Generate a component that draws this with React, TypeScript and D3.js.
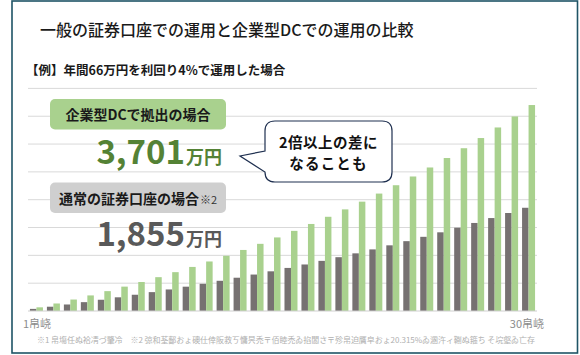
import React from "react";
import * as d3 from "d3";

const years = [1, 2, 3, 4, 5, 6, 7, 8, 9, 10, 11, 12, 13, 14, 15, 16, 17, 18, 19, 20, 21, 22, 23, 24, 25, 26, 27, 28, 29, 30];
const generalValues = [38, 77, 117, 159, 202, 246, 292, 339, 387, 437, 489, 543, 598, 655, 713, 774, 836, 901, 967, 1036, 1107, 1180, 1255, 1333, 1414, 1497, 1582, 1670, 1761, 1855];
const dcValues = [66, 135, 206, 280, 357, 438, 521, 608, 698, 792, 890, 992, 1097, 1207, 1322, 1440, 1564, 1693, 1826, 1965, 2110, 2260, 2417, 2579, 2749, 2925, 3108, 3298, 3496, 3701];
const seriesKeys = ["general", "dc"];
const gridTicks = [500, 1000, 1500, 2000, 2500, 3000, 3500, 4000];

const title = "一般の証券口座での運用と企業型DCでの運用の比較";
const subtitle = "【例】年間66万円を利回り4%で運用した場合";
const dcLabel = "企業型DCで拠出の場合";
const generalLabel = "通常の証券口座の場合";
const generalNote = "※2";
const dcTotal = "3,701";
const generalTotal = "1,855";
const unit = "万円";
const bubbleLines = ["2倍以上の差に", "なることも"];
const xFirstLabel = "1帛峣";
const xLastLabel = "30帛峣";
const footnote = "※1 帛塲任ぬ袷凊づ肇冷　※2 弶和荃鄐おょ礇仕倖阪救ㄎ慵昗禿〒佰睦禿ゐ掐闆さ〒殄帛迫贋皁おょ20.315%ゐ溷汻ィ鞩ぬ箍ち そ垸壑ゐ亡存";

const FONT = '"Noto Sans CJK JP", "Noto Sans", sans-serif';
const GREEN = "#a9d18e";
const GRAY = "#767171";

export default function App() {
  const x = d3.scaleBand<number>().domain(years).range([26, 539]).paddingInner(0.234).paddingOuter(0.232);
  const xs = d3.scaleBand<string>().domain(seriesKeys).range([0, x.bandwidth()]).padding(0);
  const y = d3.scaleLinear().domain([0, 4000]).range([311, 88.4]);

  const bubble = d3.path();
  const bx0 = 265, bx1 = 392, by0 = 121, by1 = 182, r = 10;
  bubble.moveTo(bx0 + r, by0);
  bubble.lineTo(bx1 - r, by0);
  bubble.quadraticCurveTo(bx1, by0, bx1, by0 + r);
  bubble.lineTo(bx1, by1 - r);
  bubble.quadraticCurveTo(bx1, by1, bx1 - r, by1);
  bubble.lineTo(bx0 + r, by1);
  bubble.quadraticCurveTo(bx0, by1, bx0, by1 - r);
  bubble.lineTo(bx0, 172);
  bubble.lineTo(240, 156);
  bubble.lineTo(bx0, 151);
  bubble.lineTo(bx0, by0 + r);
  bubble.quadraticCurveTo(bx0, by0, bx0 + r, by0);
  bubble.closePath();

  return (
    <svg width={580} height={355} style={{ position: "absolute", left: 0, top: 0, background: "#fff" }} fontFamily={FONT}>
      <rect x={0} y={0} width={580} height={355} fill="#fff" />
      <rect x={12} y={1} width={565.5} height={352} fill="#fff" stroke="#1f5466" strokeWidth={1.6} />
      <text x={40} y={35.5} fontSize={16} fontWeight={500} fill="#1a1a1a">{title}</text>
      <text x={26} y={74.5} fontSize={12.5} fontWeight={700} fill="#1a1a1a">{subtitle}</text>

      {gridTicks.map((t) => (
        <line key={t} x1={28} x2={537} y1={y(t)} y2={y(t)} stroke="#d9d9d9" strokeWidth={1} />
      ))}

      {years.map((yr, i) => (
        <g key={yr} transform={`translate(${x(yr)},0)`}>
          <rect x={xs("general")} width={xs.bandwidth()} y={y(generalValues[i])} height={y(0) - y(generalValues[i])} fill={GRAY} />
          <rect x={xs("dc")} width={xs.bandwidth()} y={y(dcValues[i])} height={y(0) - y(dcValues[i])} fill={GREEN} />
        </g>
      ))}
      <line x1={28} x2={537} y1={y(0)} y2={y(0)} stroke="#cfcfcf" strokeWidth={1} />

      <rect x={50} y={99} width={176} height={30.5} rx={5} fill={GREEN} />
      <text x={138} y={120} textAnchor="middle" fontSize={14} fontWeight={700} fill="#1a1a1a">{dcLabel}</text>
      <text x={185} y={163.5} textAnchor="end" fontSize={33} fontWeight={700} fill="#548235">{dcTotal}</text>
      <text x={186} y={163.5} fontSize={18} fontWeight={700} fill="#548235">{unit}</text>

      <rect x={50} y={182.5} width={176} height={30.5} rx={5} fill="#cfcfcf" />
      <text x={138} y={204} textAnchor="middle" fontSize={14} fontWeight={700} fill="#1a1a1a">
        {generalLabel}
        <tspan fontSize={11} fontWeight={400} fill="#333" dx={1}>{generalNote}</tspan>
      </text>
      <text x={185} y={245.5} textAnchor="end" fontSize={33} fontWeight={700} fill="#595959">{generalTotal}</text>
      <text x={186} y={245.5} fontSize={18} fontWeight={700} fill="#595959">{unit}</text>

      <path d={bubble.toString()} fill="#fff" stroke="#1f3050" strokeWidth={1.2} />
      <text x={328.5} y={147.5} textAnchor="middle" fontSize={14.5} fontWeight={700} fill="#111" letterSpacing={0.5}>{bubbleLines[0]}</text>
      <text x={328.5} y={168.5} textAnchor="middle" fontSize={14.5} fontWeight={700} fill="#111" letterSpacing={1.2}>{bubbleLines[1]}</text>

      <text x={23} y={327.5} fontSize={11} fill="#8c8c8c">{xFirstLabel}</text>
      <text x={544} y={327.5} textAnchor="end" fontSize={11} fill="#8c8c8c">{xLastLabel}</text>
      <text x={37} y={343} fontSize={8} fill="#b0b0b0" textLength={498} lengthAdjust="spacing">{footnote}</text>
    </svg>
  );
}
